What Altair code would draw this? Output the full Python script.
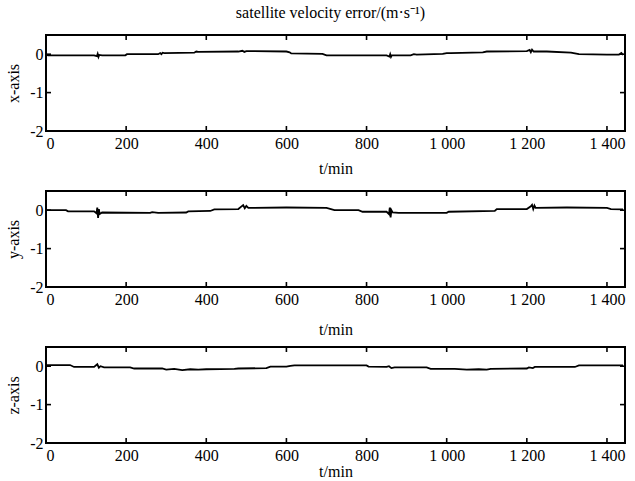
import altair as alt
import pandas as pd

# ---- data ----
t_x = [0, 5, 120, 127, 129, 131, 133, 140, 198, 202, 280, 285, 288, 291, 295, 370, 375, 380,
       480, 490, 495, 500, 600, 608, 612, 690, 700, 850, 857, 859, 861, 863, 910, 918, 925,
       990, 1000, 1010, 1090, 1100, 1200, 1207, 1210, 1213, 1217, 1250, 1310, 1320, 1330,
       1400, 1430, 1436, 1440]
v_x = [0.0, -0.03, -0.03, -0.05, 0.01, -0.07, -0.02, -0.03, -0.03, 0.0, 0.0, 0.03, 0.0, 0.04, 0.03,
       0.04, 0.07, 0.06, 0.07, 0.09, 0.06, 0.08, 0.07, 0.05, 0.02, 0.01, -0.03, -0.03, -0.06, 0.0,
       -0.07, -0.03, -0.03, 0.0, -0.01, 0.01, 0.03, 0.03, 0.05, 0.07, 0.08, 0.11, 0.05, 0.12, 0.07,
       0.07, 0.04, 0.02, 0.0, -0.01, -0.01, 0.03, -0.02]

t_y = [0, 50, 55, 120, 126, 128, 130, 132, 134, 140, 260, 265, 280, 350, 355, 410, 420, 480,
       488, 492, 496, 500, 505, 600, 700, 720, 780, 790, 850, 856, 858, 860, 862, 865, 880,
       1000, 1005, 1120, 1125, 1200, 1210, 1213, 1216, 1219, 1222, 1300, 1400, 1410, 1440]
v_y = [0.0, 0.0, -0.03, -0.03, -0.08, 0.07, -0.2, 0.03, -0.1, -0.06, -0.07, -0.05, -0.07, -0.06,
       -0.03, -0.02, 0.02, 0.03, 0.1, 0.13, 0.05, 0.11, 0.06, 0.07, 0.06, 0.0, 0.0, -0.04, -0.04,
       -0.1, 0.07, -0.19, 0.0, -0.06, -0.07, -0.07, -0.04, -0.02, 0.03, 0.03, 0.1, 0.14, 0.03, 0.12,
       0.06, 0.07, 0.06, 0.03, 0.02]

t_z = [0, 60, 70, 120, 128, 132, 136, 145, 210, 220, 290, 300, 320, 340, 360, 380, 400, 470,
       480, 550, 560, 600, 610, 620, 800, 805, 850, 856, 862, 870, 950, 960, 1020, 1050, 1080,
       1100, 1110, 1200, 1205, 1215, 1220, 1320, 1330, 1440]
v_z = [0.03, 0.03, -0.02, -0.02, 0.05, -0.04, 0.0, -0.03, -0.03, -0.06, -0.06, -0.09, -0.07, -0.1,
       -0.08, -0.09, -0.08, -0.07, -0.06, -0.05, -0.01, -0.01, 0.01, 0.02, 0.02, -0.01, -0.02, 0.0,
       -0.05, -0.03, -0.03, -0.07, -0.07, -0.09, -0.08, -0.09, -0.07, -0.06, -0.03, -0.05, -0.02,
       -0.02, 0.02, 0.02]

x_ticks = [0, 200, 400, 600, 800, 1000, 1200, 1400]
y_ticks = [0, -1, -2]
x_domain = [0, 1445]
y_domain = [-2, 0.5]

W, H = 579, 96
FONT = "Liberation Serif"
TL = 5  # inward tick length

x_label_expr = "datum.value >= 1000 ? floor(datum.value / 1000) + ' ' + substring('' + datum.value, 1) : '' + datum.value"


def panel(t, v, ytitle, title_pad):
    df = pd.DataFrame({"t": t, "v": v})
    xs = alt.Scale(domain=x_domain, nice=False, zero=False)
    ys = alt.Scale(domain=y_domain, nice=False, zero=False)
    line = alt.Chart(df).mark_line(color="black", strokeWidth=1.8).encode(
        x=alt.X("t:Q", scale=xs,
                axis=alt.Axis(values=x_ticks, title="t/min", ticks=False, domain=False, grid=False,
                              labelExpr=x_label_expr, labelPadding=4, titlePadding=title_pad)),
        y=alt.Y("v:Q", scale=ys,
                axis=alt.Axis(values=y_ticks, title=ytitle, ticks=False, domain=False, grid=False,
                              labelExpr="'' + datum.value", labelPadding=3, titlePadding=8)),
    )
    xt = pd.DataFrame({"t": x_ticks})
    yt = pd.DataFrame({"v": y_ticks})
    bottom = alt.Chart(xt).mark_rule(color="black", strokeWidth=1.6).encode(
        x=alt.X("t:Q", scale=xs), y=alt.value(H), y2=alt.value(H - TL))
    top = alt.Chart(xt).mark_rule(color="black", strokeWidth=1.6).encode(
        x=alt.X("t:Q", scale=xs), y=alt.value(0), y2=alt.value(TL))
    left = alt.Chart(yt).mark_rule(color="black", strokeWidth=1.6).encode(
        y=alt.Y("v:Q", scale=ys), x=alt.value(0), x2=alt.value(TL))
    right = alt.Chart(yt).mark_rule(color="black", strokeWidth=1.6).encode(
        y=alt.Y("v:Q", scale=ys), x=alt.value(W), x2=alt.value(W - TL))
    return alt.layer(line, bottom, top, left, right).properties(width=W, height=H)


chart = alt.vconcat(
    panel(t_x, v_x, "x-axis", 9),
    panel(t_y, v_y, "y-axis", 14),
    panel(t_z, v_z, "z-axis", 0),
    spacing=60,
    bounds="flush",
).properties(
    title=alt.TitleParams("satellite velocity error/(m·s⁻¹)", font=FONT, fontSize=16,
                          fontWeight="normal", anchor="middle", frame="group", offset=12, dx=-5),
    padding={"left": 4, "top": 5, "right": 2, "bottom": 2},
    background="white",
).configure_view(
    stroke="black", strokeWidth=2
).configure_axis(
    labelFont=FONT, labelFontSize=16, labelColor="black",
    titleFont=FONT, titleFontSize=16, titleFontWeight="normal", titleColor="black",
)

chart.save("out.html", embed_options={"renderer": "svg", "actions": False})
